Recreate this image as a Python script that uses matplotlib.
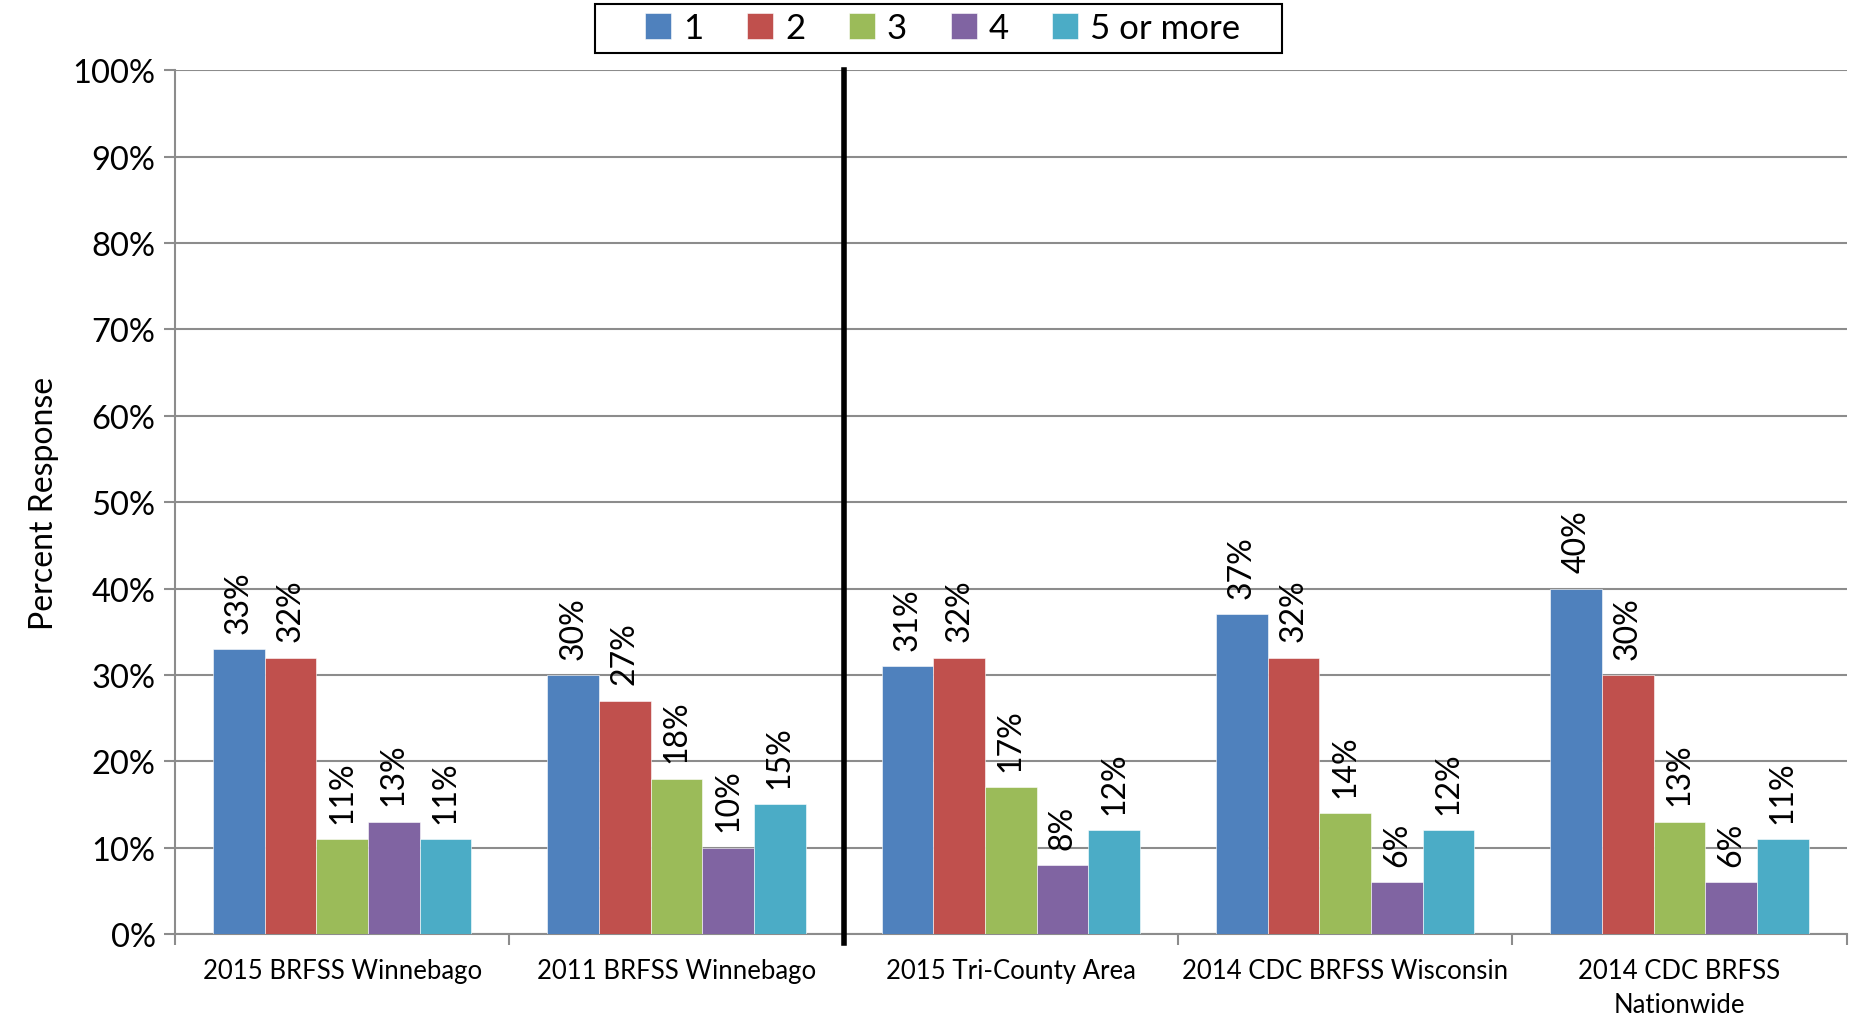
import matplotlib.pyplot as plt
from matplotlib.patches import Rectangle
import numpy as np

# survey groups and response shares (%)
groups = ["2015 BRFSS Winnebago", "2011 BRFSS Winnebago", "2015 Tri-County Area",
          "2014 CDC BRFSS Wisconsin", "2014 CDC BRFSS\nNationwide"]
series_names = ["1", "2", "3", "4", "5 or more"]
resp_1 = [33, 30, 31, 37, 40]
resp_2 = [32, 27, 32, 32, 30]
resp_3 = [11, 18, 17, 14, 13]
resp_4 = [13, 10, 8, 6, 6]
resp_5 = [11, 15, 12, 12, 11]
colors = ["#4F81BD", "#C0504D", "#9BBB59", "#8064A2", "#4BACC6"]

plt.rcParams['font.family'] = ['Lato', 'DejaVu Sans']

fig = plt.figure(figsize=(18.56, 10.2), dpi=100)
ax = fig.add_axes([0.0943, 0.0833, 0.9007, 0.8467])

x = np.arange(len(groups))
w = 0.1545
all_series = [resp_1, resp_2, resp_3, resp_4, resp_5]
for i, (vals, name, c) in enumerate(zip(all_series, series_names, colors)):
    pos = x + (i - 2) * w
    ax.bar(pos, vals, width=w, color=c, label=name, zorder=3,
           edgecolor='white', linewidth=0.4)
    for xp, v in zip(pos, vals):
        ax.text(xp, v + 1.9, f"{v}%", rotation=90, ha='center', va='bottom',
                fontsize=23, zorder=4)

# divider between county and comparison data
ax.axvline(1.5, color='black', linewidth=4, zorder=5, ymin=-0.01, clip_on=False)

ax.set_xlim(-0.5, 4.5)
ax.set_ylim(0, 100)
ax.set_yticks(np.arange(0, 101, 10))
ax.set_yticklabels([f"{t}%" for t in range(0, 101, 10)], fontsize=23.5)
ax.yaxis.grid(True, color='#8c8c8c', linewidth=1.5, zorder=0)
ax.set_axisbelow(True)

ax.set_xticks(x)
ax.set_xticklabels(groups, fontsize=18.5, linespacing=1.45)
ax.tick_params(axis='x', length=0, pad=17)
ax.set_xticks(np.arange(-0.5, 4.6, 1), minor=True)
ax.tick_params(axis='x', which='minor', length=8, width=1.5, color='#8c8c8c')
ax.tick_params(axis='y', length=8, width=1.5, color='#8c8c8c', pad=6)

for s in ['top', 'right']:
    ax.spines[s].set_visible(False)
for s in ['left', 'bottom']:
    ax.spines[s].set_color('#8c8c8c')
    ax.spines[s].set_linewidth(1.5)

ax.set_ylabel("Percent Response", fontsize=23, labelpad=10)

# legend entries without frame, box drawn separately for wider side padding
leg = fig.legend(loc='center', bbox_to_anchor=(0.508, 0.9715), ncol=5,
                 fontsize=25, frameon=False,
                 handlelength=0.75, handleheight=0.75, handletextpad=0.35,
                 columnspacing=1.25, borderpad=0.0, borderaxespad=0.0)
fig.patches.append(Rectangle((0.3205, 0.9475), 0.3705, 0.048,
                             transform=fig.transFigure, fill=False,
                             edgecolor='black', linewidth=1.5))

fig.savefig("out.png", dpi=100)
